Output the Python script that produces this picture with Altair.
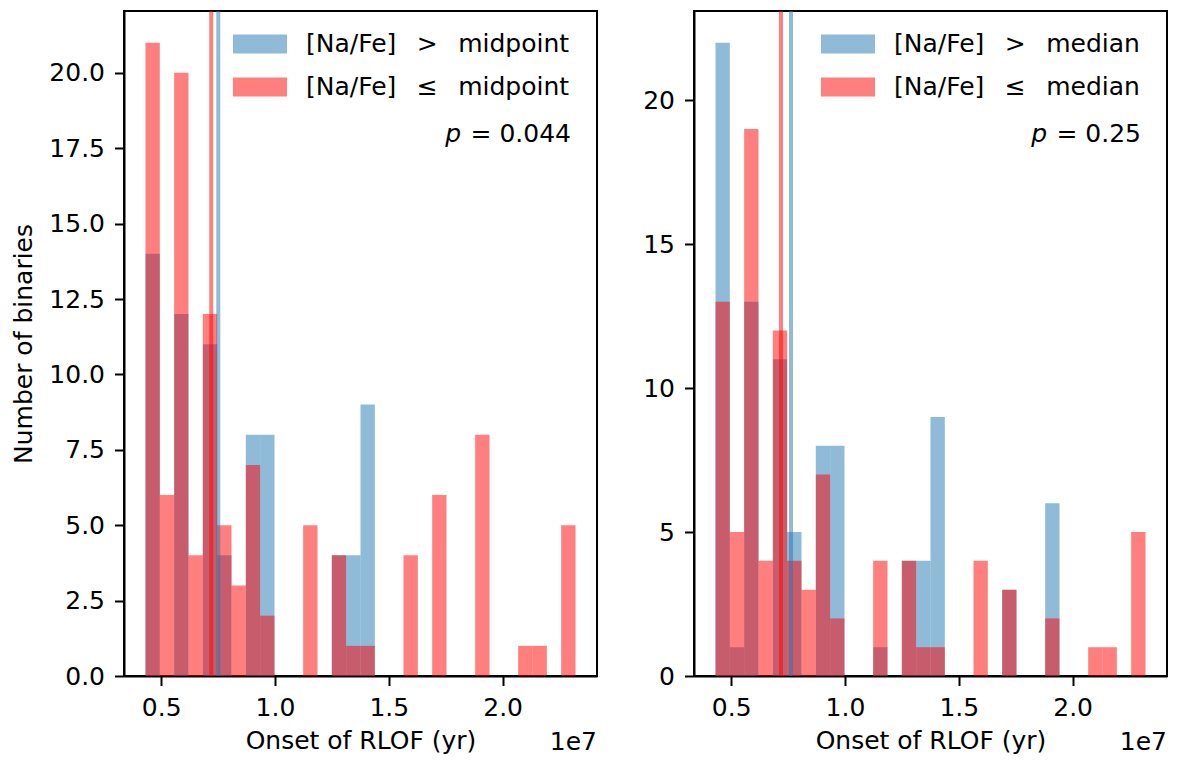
import altair as alt
import pandas as pd

# ---- data (onset of RLOF in units of 1e7 yr) ----
bin_lo = 0.4312      # left edge of first histogram bin (1e7 yr)
bin_width = 0.06297  # bin width (1e7 yr)
n_bins = 30

left_hi = [14, 0, 12, 0, 11, 4, 0, 8, 8, 0, 0, 0, 0, 4, 4, 9, 0, 0, 0, 0, 0, 0, 0, 0, 0, 0, 0, 0, 0, 0]
left_lo = [21, 6, 20, 4, 12, 5, 3, 7, 2, 0, 0, 5, 0, 4, 1, 1, 0, 0, 4, 0, 6, 0, 0, 8, 0, 0, 1, 1, 0, 5]
right_hi = [22, 1, 13, 0, 11, 5, 0, 8, 8, 0, 0, 1, 0, 4, 4, 9, 0, 0, 0, 0, 3, 0, 0, 6, 0, 0, 0, 0, 0, 0]
right_lo = [13, 5, 19, 4, 12, 4, 3, 7, 2, 0, 0, 4, 0, 4, 1, 1, 0, 0, 4, 0, 3, 0, 0, 2, 0, 0, 1, 1, 0, 5]

left_labels = ["[Na/Fe] \u2002>\u2002 midpoint", "[Na/Fe] \u2002\u2264\u2002 midpoint"]
right_labels = ["[Na/Fe] \u2002>\u2002 median", "[Na/Fe] \u2002\u2264\u2002 median"]
left_means = [0.751, 0.720]   # hi, lo
right_means = [0.763, 0.719]
left_p = "= 0.044"
right_p = "= 0.25"

colors = ["#1f77b4", "#ff0000"]
FONT = "DejaVu Sans"
W, H = 473, 665
x_domain = [bin_lo - 0.0944, bin_lo + n_bins * bin_width + 0.0944]

SYMBOL = "M-1,-0.35L1,-0.35L1,0.35L-1,0.35Z"


def panel(hi, lo, labels, means, ptext, ymax, yticks, yfmt, ytitle, legend_x, p_gap):
    rows = []
    for counts, lab in ((hi, labels[0]), (lo, labels[1])):
        for i, c in enumerate(counts):
            if c > 0:
                s = bin_lo + i * bin_width
                rows.append({"x0": s, "x1": s + bin_width, "count": c, "base": 0, "group": lab})
    df = pd.DataFrame(rows)
    color = alt.Color(
        "group:N",
        scale=alt.Scale(domain=labels, range=colors),
        sort=labels,
        legend=alt.Legend(
            orient="none", legendX=legend_x, legendY=6, title=None,
            symbolType=SYMBOL, symbolSize=2916, symbolOpacity=0.5,
            symbolStrokeWidth=0, labelFontSize=25, labelFont=FONT,
            labelColor="black", labelOffset=19, rowPadding=3, padding=0,
            labelLimit=0,
        ),
    )
    xaxis = alt.Axis(values=[0.5, 1.0, 1.5, 2.0], format=".1f", title="Onset of RLOF (yr)")
    yaxis = alt.Axis(values=yticks, format=yfmt, title=ytitle) if ytitle else alt.Axis(values=yticks, format=yfmt, title=None)
    bars = alt.Chart(df).mark_bar(opacity=0.5, strokeWidth=0).encode(
        x=alt.X("x0:Q", scale=alt.Scale(domain=x_domain, nice=False, zero=False), axis=xaxis),
        x2="x1:Q",
        y=alt.Y("count:Q", scale=alt.Scale(domain=[0, ymax], nice=False), axis=yaxis),
        y2="base:Q",
        color=color,
    )
    mdf = pd.DataFrame({"m": means, "c": colors})
    rules = alt.Chart(mdf).mark_rule(strokeWidth=4, opacity=0.5).encode(
        x="m:Q", color=alt.Color("c:N", scale=None)
    )
    ptxt = alt.Chart(pd.DataFrame({"t": [ptext]})).mark_text(
        align="right", baseline="alphabetic", fontSize=25, font=FONT, color="black"
    ).encode(text="t:N", x=alt.value(W - 26), y=alt.value(131))
    pit = alt.Chart(pd.DataFrame({"t": ["p"]})).mark_text(
        align="right", baseline="alphabetic", fontSize=25, font=FONT, fontStyle="italic", color="black"
    ).encode(text="t:N", x=alt.value(W - 26 - p_gap), y=alt.value(131))
    e7 = alt.Chart(pd.DataFrame({"t": ["1e7"]})).mark_text(
        align="right", baseline="alphabetic", fontSize=25, font=FONT, color="black"
    ).encode(text="t:N", x=alt.value(W), y=alt.value(739))
    return alt.layer(bars, rules, ptxt, pit, e7).properties(width=W, height=H)


left = panel(left_hi, left_lo, left_labels, left_means, left_p, 22.05,
             [0, 2.5, 5, 7.5, 10, 12.5, 15, 17.5, 20], ".1f", "Number of binaries", 109, 110)
right = panel(right_hi, right_lo, right_labels, right_means, right_p, 23.1,
              [0, 5, 10, 15, 20], "d", None, 127, 94)

chart = alt.hconcat(left, right, spacing=43).resolve_scale(color="independent").resolve_legend(
    color="independent"
).properties(
    padding={"left": 10, "top": 8, "right": 5, "bottom": 5}, background="white"
).configure_view(
    stroke="black", strokeWidth=2
).configure_axis(
    labelFont=FONT, labelFontSize=25, labelColor="black", titleFont=FONT, titleFontSize=25,
    titleFontWeight="normal", titleColor="black", domainColor="black", domainWidth=2,
    tickColor="black", tickWidth=2, tickSize=9.5, labelPadding=10, grid=False,
).configure_axisX(titlePadding=8).configure_axisY(titlePadding=12)

chart.save("out.html", embed_options={"renderer": "svg", "actions": False})
